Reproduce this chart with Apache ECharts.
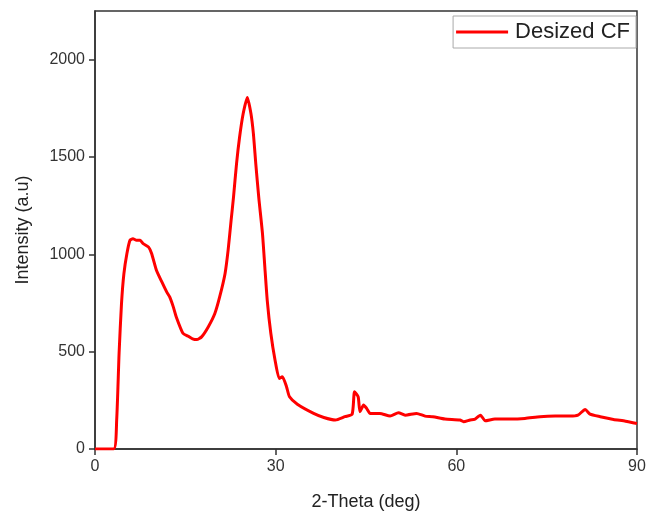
<!DOCTYPE html>
<html>
<head>
<meta charset="utf-8">
<script src="https://cdn.jsdelivr.net/npm/echarts@6/dist/echarts.min.js"></script>
<style>
  html, body { margin: 0; padding: 0; background: #fff; }
  #chart { width: 650px; height: 521px; }
</style>
</head>
<body>
<div id="chart"></div>
<script>
// 2-theta positions (deg) and intensities
var twoTheta = [
  0, 3.1, 3.6, 4.0, 4.4, 4.8, 5.3, 5.8, 6.3, 6.9, 7.5, 8.0, 8.9, 9.4,
  10.2, 11.1, 11.9, 12.4, 13.0, 13.5, 14.6, 15.5, 16.2, 16.9, 17.7, 18.8,
  19.9, 20.7, 21.6, 22.1, 22.6, 23.0, 23.5, 24.0, 24.6, 25.3, 25.9, 26.3,
  26.7, 27.2, 27.8, 28.2, 28.6, 29.2, 29.9, 30.6, 31.1, 31.8, 32.3,
  33.6, 36.3, 38.0, 39.9, 41.5, 42.7, 43.1, 43.7, 44.0, 44.6, 45.1,
  45.7, 47.3, 49.0, 50.4, 51.5, 53.4, 54.8, 56.1, 58.1, 60.6, 61.2, 62.3,
  63.0, 64.0, 64.8, 66.4, 68.9, 71.4, 73.9, 76.4, 78.9, 80.2, 81.4, 82.2,
  83.9, 86.1, 88.1, 90
];
var intensity = [
  0, 0, 149, 492, 747, 901, 1004, 1072, 1080, 1072, 1072, 1055, 1037, 1004,
  918, 858, 807, 781, 730, 678, 595, 579, 566, 562, 576, 627,
  696, 781, 902, 1020, 1174, 1294, 1465, 1600, 1722, 1806, 1722, 1620,
  1465, 1290, 1110, 935, 764, 593, 456, 362, 371, 320, 268,
  230, 183, 162, 149, 166, 179, 294, 268, 191, 226, 209,
  183, 183, 169, 186, 174, 183, 169, 166, 154, 149, 140, 149,
  152, 174, 145, 154, 154, 157, 166, 169, 169, 174, 203, 179,
  166, 152, 143, 131
];
var xTicks = [0, 30, 60, 90];
var yTicks = [0, 500, 1000, 1500, 2000];

var seriesData = twoTheta.map(function (t, i) { return [t, intensity[i]]; });

var chart = echarts.init(document.getElementById('chart'));
chart.setOption({
  animation: false,
  textStyle: { fontFamily: 'Liberation Sans, Arial, sans-serif' },
  grid: {
    left: 95, right: 13, top: 11, bottom: 72,
    show: true, borderColor: '#333', borderWidth: 1.5
  },
  legend: {
    top: 16, right: 14,
    data: [{ name: 'Desized CF', icon: 'rect' }],
    itemWidth: 52, itemHeight: 3, itemGap: 6,
    padding: [5, 6, 5, 3],
    borderColor: '#aaa', borderWidth: 1,
    textStyle: { fontSize: 22, color: '#222', padding: [0, 0, 0, 2] }
  },
  xAxis: {
    type: 'value',
    min: 0, max: 90, interval: 30,
    name: '2-Theta (deg)',
    nameLocation: 'middle', nameGap: 44,
    nameTextStyle: { fontSize: 18, color: '#222' },
    axisLine: { lineStyle: { color: '#333', width: 1.5 } },
    axisTick: { length: 6, customValues: xTicks, lineStyle: { color: '#333', width: 1.5 } },
    axisLabel: {
      fontSize: 16, color: '#333', margin: 10, customValues: xTicks,
      formatter: function (v) { return String(v); }
    },
    splitLine: { show: false }
  },
  yAxis: {
    type: 'value',
    min: 0, max: 2250, interval: 500,
    name: 'Intensity (a.u)',
    nameLocation: 'middle', nameGap: 63,
    nameTextStyle: { fontSize: 18, color: '#222' },
    axisLine: { show: true, lineStyle: { color: '#333', width: 1.5 } },
    axisTick: { show: true, length: 6, customValues: yTicks, lineStyle: { color: '#333', width: 1.5 } },
    axisLabel: {
      fontSize: 16, color: '#333', margin: 10, customValues: yTicks,
      formatter: function (v) { return String(v); }
    },
    splitLine: { show: false }
  },
  series: [{
    name: 'Desized CF',
    type: 'line',
    data: seriesData,
    showSymbol: false,
    symbol: 'none',
    smooth: 0.2,
    lineStyle: { color: '#ff0000', width: 3 },
    itemStyle: { color: '#ff0000' }
  }]
});
</script>
</body>
</html>
